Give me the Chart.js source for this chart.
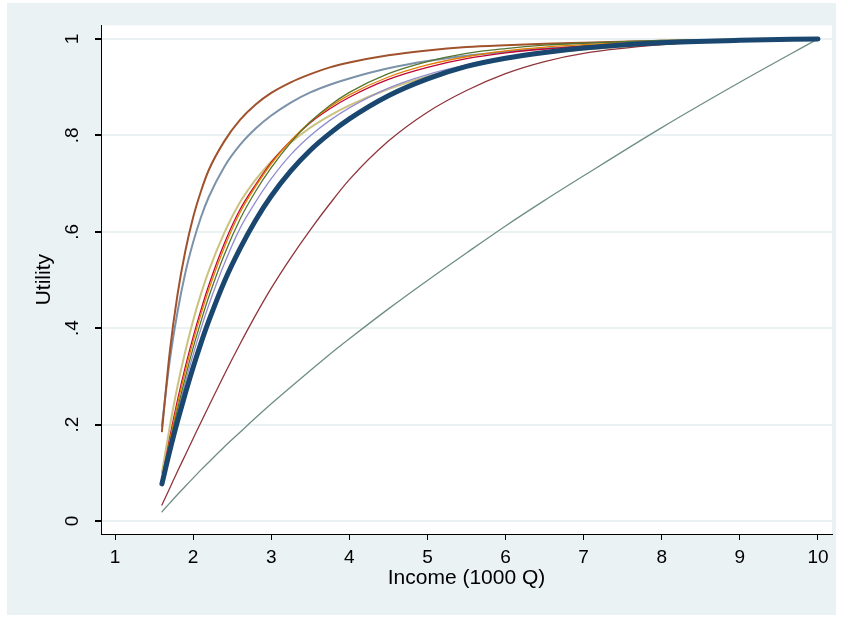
<!DOCTYPE html>
<html>
<head>
<meta charset="utf-8">
<script src="https://cdn.jsdelivr.net/npm/chart.js@4/dist/chart.umd.min.js"></script>
<style>
  html, body { margin: 0; padding: 0; background: #fff; }
  #wrap { width: 843px; height: 618px; }
</style>
</head>
<body>
<div id="wrap"><canvas id="utilityChart"></canvas></div>
<script>
// income grid (1000 Q) the curves were read at
const income = [1.6, 1.7, 1.8, 1.9, 2.0, 2.1, 2.2, 2.4, 2.6, 2.8, 3.0, 3.25, 3.5, 3.75, 4.0, 4.5, 5.0, 5.5, 6.0, 6.5, 7.0, 8.0, 9.0, 10.0];

const xTicks = [1, 2, 3, 4, 5, 6, 7, 8, 9, 10];
const xTickLabels = ['1', '2', '3', '4', '5', '6', '7', '8', '9', '10'];
const yTicks = [0, 0.2, 0.4, 0.6, 0.8, 1];
const yTickLabels = ['0', '.2', '.4', '.6', '.8', '1'];

// utility curves, one per series
const navy      = [.077, .145, .207, .265, .319, .369, .415, .497, .565, .624, .674, .726, .769, .804, .834, .882, .917, .943, .960, .972, .981, .992, .997, 1];
const maroon    = [.033, .068, .103, .137, .171, .205, .238, .304, .367, .427, .483, .546, .604, .658, .708, .788, .848, .893, .928, .953, .970, .988, .997, 1];
const green     = [.081, .160, .232, .298, .359, .414, .465, .553, .626, .684, .733, .785, .828, .862, .889, .928, .953, .970, .980, .987, .991, .997, .999, 1];
const orange    = [.084, .166, .243, .311, .373, .429, .480, .568, .640, .694, .741, .789, .828, .859, .884, .921, .946, .963, .975, .983, .988, .995, .998, 1];
const teal      = [.019, .037, .055, .072, .089, .106, .122, .154, .184, .214, .243, .278, .312, .346, .378, .440, .499, .556, .612, .665, .716, .816, .910, 1];
const cranberry = [.086, .173, .251, .320, .382, .438, .489, .576, .646, .698, .744, .789, .826, .855, .879, .916, .941, .959, .971, .979, .985, .994, .998, 1];
const lavender  = [.080, .155, .224, .287, .345, .399, .448, .534, .607, .662, .710, .760, .799, .831, .857, .898, .926, .946, .962, .973, .981, .991, .997, 1];
const khaki     = [.100, .195, .280, .352, .416, .471, .519, .598, .661, .708, .746, .785, .816, .841, .862, .896, .922, .943, .959, .970, .978, .989, .996, 1];
const sienna    = [.186, .350, .470, .560, .630, .684, .728, .788, .832, .864, .888, .910, .927, .941, .951, .966, .976, .983, .987, .990, .992, .996, .999, 1];
const emidblue  = [.197, .332, .434, .515, .578, .630, .672, .735, .780, .814, .841, .868, .889, .905, .918, .939, .954, .965, .973, .980, .985, .992, .997, 1];

const series = [
   { values: navy,      color: '#1a476f', width: 5 },
   { values: maroon,    color: '#90353b', width: 1.3 },
   { values: green,     color: '#55752f', width: 1.3 },
   { values: orange,    color: '#e37e00', width: 1.3 },
   { values: teal,      color: '#6e8e84', width: 1.3 },
   { values: cranberry, color: '#c10534', width: 1.3 },
   { values: lavender,  color: '#938dd2', width: 1.3 },
   { values: khaki,     color: '#cac27e', width: 2 },
   { values: sienna,    color: '#a0522d', width: 2 },
   { values: emidblue,  color: '#7b92a8', width: 2 }
];

const stataBg = {
   id: 'stataBg',
   beforeDraw(chart) {
      const { ctx, chartArea } = chart;
      ctx.save();
      ctx.fillStyle = '#ffffff';
      ctx.fillRect(0, 0, chart.width, chart.height);
      ctx.fillStyle = '#eaf2f3';
      ctx.fillRect(7, 3, 829, 612);
      ctx.fillStyle = '#ffffff';
      ctx.fillRect(chartArea.left, chartArea.top, chartArea.right - chartArea.left, chartArea.bottom - chartArea.top);
      ctx.restore();
   }
};

const font = "'Liberation Sans', Arial, Helvetica, sans-serif";

new Chart(document.getElementById('utilityChart').getContext('2d'), {
   type: 'line',
   data: {
      datasets: series.map(s => ({
         data: income.map((x, i) => ({ x: x, y: s.values[i] })),
         borderColor: s.color,
         borderWidth: s.width,
         borderCapStyle: 'round',
         borderJoinStyle: 'round',
         pointRadius: 0,
         fill: false,
         cubicInterpolationMode: 'monotone'
      }))
   },
   options: {
      responsive: true,
      maintainAspectRatio: false,
      devicePixelRatio: 1,
      animation: false,
      layout: { padding: { left: 8, right: 11, top: 25, bottom: 0 } },
      plugins: { legend: { display: false }, tooltip: { enabled: false } },
      scales: {
         x: {
            type: 'linear',
            min: 0.82,
            max: 10.18,
            afterBuildTicks: scale => { scale.ticks = xTicks.map(v => ({ value: v })); },
            afterFit: scale => { scale.height = 84; },
            grid: { drawOnChartArea: false, drawTicks: true, tickLength: 6, tickColor: '#000' },
            border: { display: true, color: '#000', width: 1 },
            ticks: {
               autoSkip: false,
               maxRotation: 0,
               padding: 6,
               color: '#000',
               font: { family: font, size: 19 },
               callback: (v, i) => xTickLabels[i]
            },
            title: {
               display: true,
               text: 'Income (1000 Q)',
               color: '#000',
               font: { family: font, size: 21 },
               padding: { top: 0, bottom: 27 }
            }
         },
         y: {
            type: 'linear',
            min: -0.027,
            max: 1.028,
            afterBuildTicks: scale => { scale.ticks = yTicks.map(v => ({ value: v })); },
            afterFit: scale => { scale.width = 93; },
            grid: { color: '#eaf2f3', lineWidth: 2, drawTicks: true, tickLength: 6, tickColor: '#000' },
            border: { display: true, color: '#000', width: 1 },
            ticks: {
               autoSkip: false,
               minRotation: 90,
               maxRotation: 90,
               crossAlign: 'center',
               padding: 14,
               color: '#000',
               font: { family: font, size: 19 },
               callback: (v, i) => yTickLabels[i]
            },
            title: {
               display: true,
               text: 'Utility',
               color: '#000',
               font: { family: font, size: 21 },
               padding: { top: 24, bottom: 0 }
            }
         }
      }
   },
   plugins: [stataBg]
});
</script>
</body>
</html>
